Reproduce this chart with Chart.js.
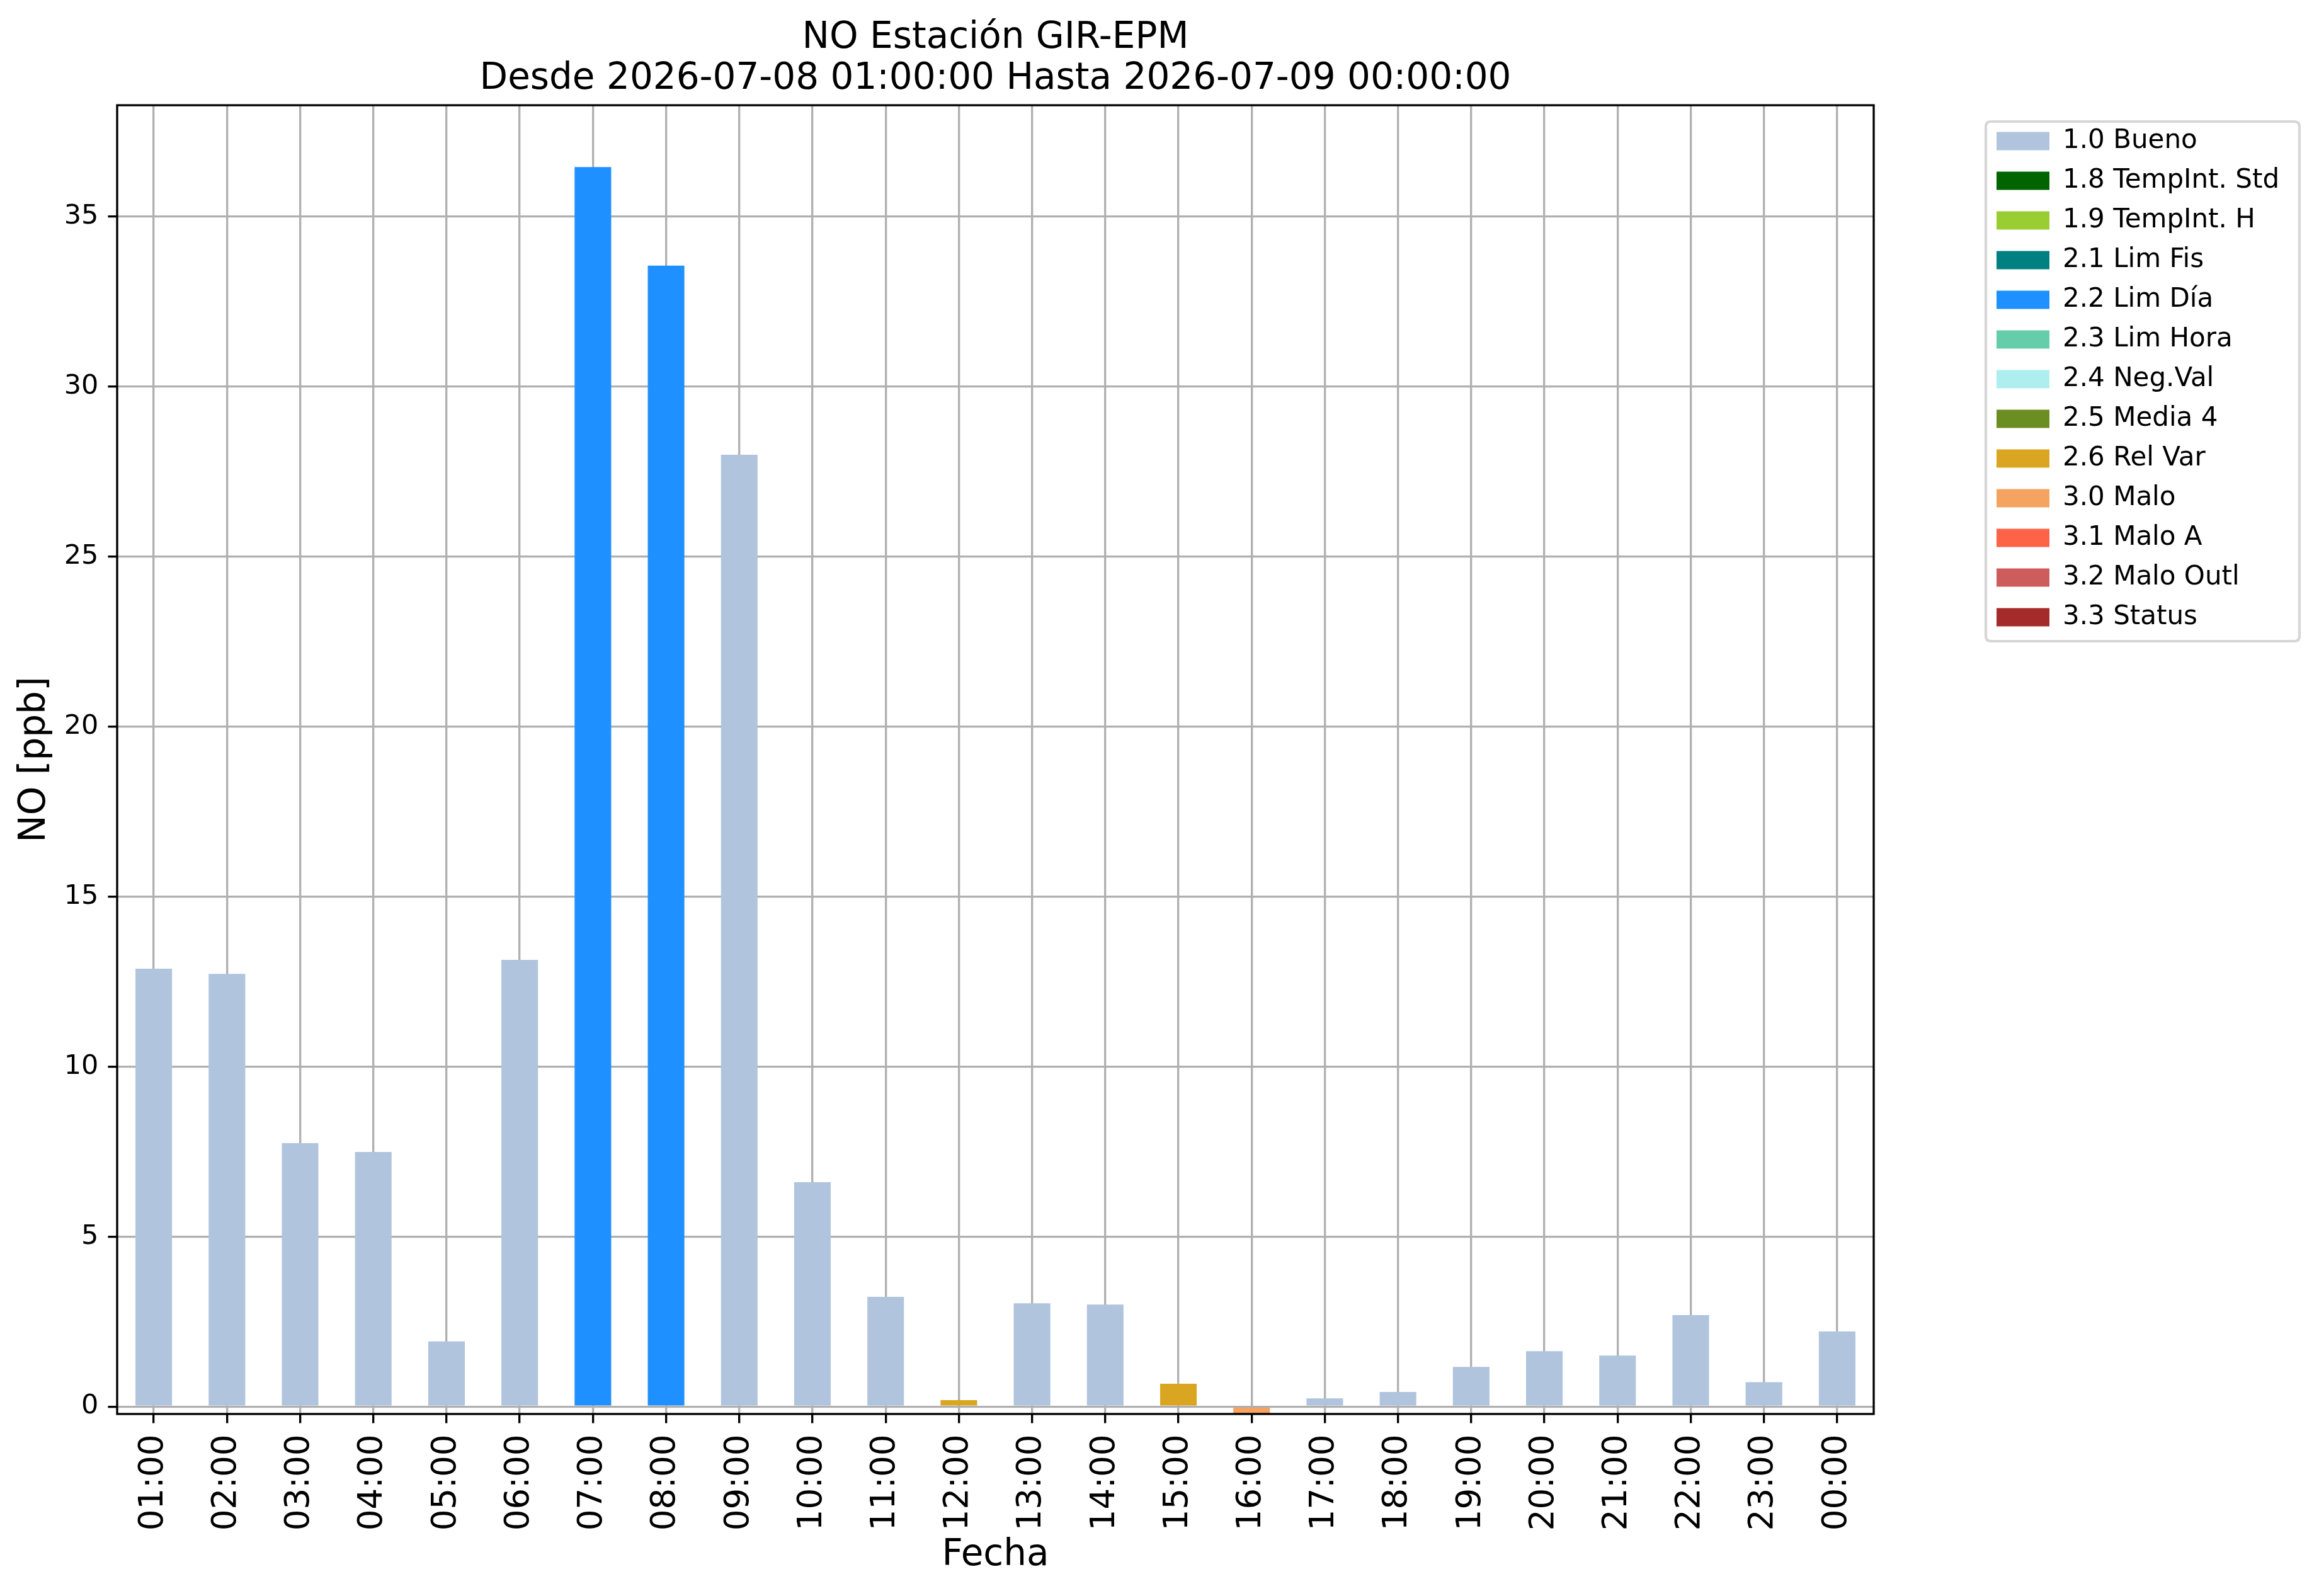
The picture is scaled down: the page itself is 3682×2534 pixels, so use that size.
<!DOCTYPE html>
<html>
<head>
<meta charset="utf-8">
<script src="https://cdn.jsdelivr.net/npm/chart.js@4.4.1/dist/chart.umd.min.js"></script>
<style>
html,body{margin:0;padding:0;background:#ffffff;}
canvas{display:block;}
</style>
</head>
<body>
<canvas id="c" width="3682" height="2534" style="width:3682px;height:2534px"></canvas>
<script>
// ---- data ----
const hours = ['01:00','02:00','03:00','04:00','05:00','06:00','07:00','08:00','09:00','10:00','11:00','12:00',
               '13:00','14:00','15:00','16:00','17:00','18:00','19:00','20:00','21:00','22:00','23:00','00:00'];
const noValues = [12.88, 12.73, 7.75, 7.49, 1.92, 13.14, 36.46, 33.56, 28.00, 6.60, 3.23, 0.19,
                  3.04, 3.00, 0.67, -0.20, 0.24, 0.43, 1.17, 1.63, 1.50, 2.69, 0.72, 2.21];
const hourFlags = ['1.0','1.0','1.0','1.0','1.0','1.0','2.2','2.2','1.0','1.0','1.0','2.6',
                   '1.0','1.0','2.6','3.0','1.0','1.0','1.0','1.0','1.0','1.0','1.0','1.0'];
const statusCodes = ['1.0','1.8','1.9','2.1','2.2','2.3','2.4','2.5','2.6','3.0','3.1','3.2','3.3'];
const statusNames = ['1.0 Bueno','1.8 TempInt. Std','1.9 TempInt. H','2.1 Lim Fis','2.2 Lim Día','2.3 Lim Hora',
                     '2.4 Neg.Val','2.5 Media 4','2.6 Rel Var','3.0 Malo','3.1 Malo A','3.2 Malo Outl','3.3 Status'];
const statusColors = ['#B0C4DE','#006400','#9ACD32','#008080','#1E90FF','#66CDAA',
                      '#AFEEEE','#6B8E23','#DAA520','#F4A460','#FF6347','#CD5C5C','#A52A2A'];
const yTicks = [0, 5, 10, 15, 20, 25, 30, 35];
const yMin = -0.217, yMax = 38.28;
const titleLines = ['NO Estación GIR-EPM', 'Desde 2026-07-08 01:00:00 Hasta 2026-07-09 00:00:00'];

// ---- datasets built from the arrays ----
const datasets = statusCodes.map((code, i) => ({
  label: statusNames[i],
  data: noValues.map((v, k) => hourFlags[k] === code ? v : null),
  backgroundColor: statusColors[i],
  borderColor: statusColors[i],
  borderWidth: 0,
  barPercentage: 0.5,
  categoryPercentage: 1.0,
  stack: 's'
}));

const FONT = "'DejaVu Sans', 'Liberation Sans', sans-serif";
const LW = 3.33;

const decorPlugin = {
  id: 'decor',
  afterLayout(chart) {
    const lg = chart.legend;
    if (!lg) return;
    const w = lg.width, h = lg.height;
    lg.left = 3149; lg.top = 182;
    lg.right = lg.left + w; lg.bottom = lg.top + h;
  },
  afterDraw(chart) {
    const ctx = chart.ctx, a = chart.chartArea;
    ctx.save();
    // axes frame (spines)
    ctx.strokeStyle = '#000000';
    ctx.lineWidth = LW;
    ctx.strokeRect(a.left, a.top, a.right - a.left, a.bottom - a.top);
    // legend frame
    const hb = chart.legend.legendHitBoxes;
    if (hb && hb.length) {
      const x0 = hb[0].left - 17;
      const y0 = hb[0].top - 10;
      const last = hb[hb.length - 1];
      const y1 = last.top + last.height + 17;
      const x1 = x0 + 498;
      const r = 8;
      ctx.strokeStyle = 'rgba(204,204,204,0.8)';
      ctx.lineWidth = 4.2;
      ctx.beginPath();
      ctx.moveTo(x0 + r, y0);
      ctx.lineTo(x1 - r, y0);
      ctx.quadraticCurveTo(x1, y0, x1, y0 + r);
      ctx.lineTo(x1, y1 - r);
      ctx.quadraticCurveTo(x1, y1, x1 - r, y1);
      ctx.lineTo(x0 + r, y1);
      ctx.quadraticCurveTo(x0, y1, x0, y1 - r);
      ctx.lineTo(x0, y0 + r);
      ctx.quadraticCurveTo(x0, y0, x0 + r, y0);
      ctx.closePath();
      ctx.stroke();
    }
    ctx.restore();
  }
};

new Chart(document.getElementById('c'), {
  type: 'bar',
  data: { labels: hours, datasets: datasets },
  options: {
    responsive: false,
    animation: false,
    devicePixelRatio: 1,
    layout: { padding: { left: 0, top: 0, right: 707, bottom: 0 } },
    plugins: {
      title: {
        display: true,
        text: titleLines,
        color: '#000000',
        fullSize: false,
        font: { family: FONT, size: 58, weight: 'normal', lineHeight: 1.13 },
        padding: { top: 28, bottom: 8 }
      },
      legend: {
        display: true,
        position: 'chartArea',
        align: 'start',
        labels: {
          color: '#000000',
          font: { family: FONT, size: 42 },
          boxWidth: 84,
          boxHeight: 29,
          padding: 21
        }
      },
      tooltip: { enabled: false }
    },
    scales: {
      x: {
        stacked: true,
        offset: true,
        z: 1,
        afterFit: (s) => { s.height = 289; },
        grid: {
          offset: false,
          color: '#b0b0b0',
          lineWidth: LW,
          drawTicks: true,
          tickLength: 14.6,
          tickColor: '#000000',
          tickWidth: LW
        },
        border: { display: false },
        ticks: {
          color: '#000000',
          font: { family: FONT, size: 53 },
          minRotation: 90,
          maxRotation: 90,
          autoSkip: false,
          padding: 18
        },
        title: {
          display: true,
          text: 'Fecha',
          color: '#000000',
          font: { family: FONT, size: 58 },
          padding: { top: 0, bottom: 29 }
        }
      },
      y: {
        stacked: true,
        min: yMin,
        max: yMax,
        z: 1,
        afterFit: (s) => { s.width = 186; },
        afterBuildTicks: (s) => { s.ticks = yTicks.map(v => ({ value: v })); },
        grid: {
          color: '#b0b0b0',
          lineWidth: LW,
          drawTicks: true,
          tickLength: 14.6,
          tickColor: '#000000',
          tickWidth: LW
        },
        border: { display: false },
        ticks: {
          color: '#000000',
          font: { family: FONT, size: 43 },
          includeBounds: false,
          stepSize: 5,
          padding: 15
        },
        title: {
          display: true,
          text: 'NO [ppb]',
          color: '#000000',
          font: { family: FONT, size: 58 },
          padding: { top: 21, bottom: 0 }
        }
      }
    }
  },
  plugins: [decorPlugin]
});
</script>
</body>
</html>
